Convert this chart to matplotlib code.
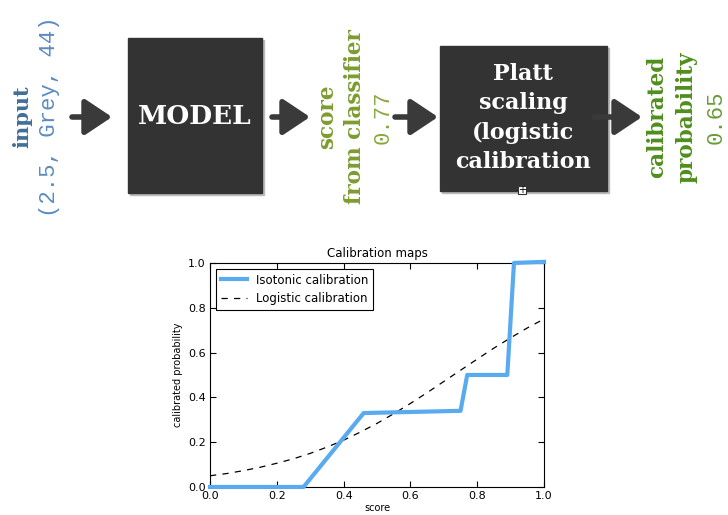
import matplotlib.pyplot as plt
from matplotlib.patches import Rectangle

# calibration maps
iso_x = [0.0, 0.28, 0.46, 0.75, 0.77, 0.89, 0.91, 1.0]
iso_y = [0.0, 0.0, 0.33, 0.34, 0.50, 0.50, 1.0, 1.005]

log_x = [0.0, 0.05, 0.1, 0.15, 0.2, 0.25, 0.3, 0.35, 0.4, 0.45, 0.5,
         0.55, 0.6, 0.65, 0.7, 0.75, 0.8, 0.85, 0.9, 0.95, 1.0]
log_y = [0.050, 0.060, 0.073, 0.088, 0.106, 0.126, 0.150, 0.178, 0.209, 0.245, 0.284,
         0.327, 0.373, 0.421, 0.471, 0.521, 0.571, 0.620, 0.666, 0.710, 0.750]

ticks = [0.0, 0.2, 0.4, 0.6, 0.8, 1.0]

# pipeline texts
input_word = 'input'
input_value = '(2.5, Grey, 44)'
score_words = ['score', 'from classifier']
score_value = '0.77'
prob_words = ['calibrated', 'probability']
prob_value = '0.65'
model_label = 'MODEL'
platt_label = 'Platt\nscaling\n(logistic\ncalibration'

fig = plt.figure(figsize=(7.28, 5.15), dpi=100)

# ---- top diagram, drawn in pixel coordinates ----
dax = fig.add_axes([0, 0, 1, 1])
dax.set_xlim(0, 728)
dax.set_ylim(515, 0)
dax.axis('off')

box_col = '#333333'
arrow_col = '#3a3a3a'
serif = 'DejaVu Serif'
mono = 'Liberation Mono'
mid_y = 117

def box(x0, y0, x1, y1):
    dax.add_patch(Rectangle((x0 + 2, y0 + 2), x1 - x0, y1 - y0, color='#bbbbbb', zorder=1))
    dax.add_patch(Rectangle((x0, y0), x1 - x0, y1 - y0, color=box_col, zorder=2))

def arrow(x0, x1):
    dax.annotate('', xy=(x1, mid_y), xytext=(x0, mid_y),
                 arrowprops=dict(arrowstyle='-|>,head_length=0.75,head_width=0.5',
                                 color=arrow_col, lw=4, mutation_scale=22,
                                 shrinkA=0, shrinkB=0))

def vtext(x, s, color, size, family, weight='bold'):
    dax.text(x, mid_y, s, rotation=90, ha='center', va='center', color=color,
             fontsize=size, family=family, fontweight=weight)

vtext(22, input_word, '#3f6e99', 15, serif)
vtext(50, input_value, '#5a8bbf', 16, mono, 'normal')
arrow(72, 112)

box(128, 38, 262, 193)
dax.text(195, mid_y, model_label, color='white', fontsize=19, family=serif,
         fontweight='bold', ha='center', va='center', zorder=3)
arrow(272, 310)

vtext(327, score_words[0], '#7d9c2e', 15.5, serif)
vtext(355, score_words[1], '#7d9c2e', 15.5, serif)
vtext(383, score_value, '#8aa840', 16, mono, 'normal')
arrow(395, 438)

box(440, 46, 607, 191)
dax.text(523, 118, platt_label, color='white', fontsize=16, family=serif,
         fontweight='bold', ha='center', va='center', linespacing=1.42, zorder=3)
dax.add_patch(Rectangle((518, 186), 8, 8, facecolor='white', edgecolor='#333333', lw=0.8, zorder=4))
dax.text(522, 190, '+', fontsize=7, ha='center', va='center', zorder=5)
arrow(594, 642)

vtext(657, prob_words[0], '#4f8e1c', 15.5, serif)
vtext(687, prob_words[1], '#4f8e1c', 15.5, serif)
vtext(716, prob_value, '#6a9c3a', 16, mono, 'normal')

# ---- calibration chart ----
ax = fig.add_axes([0.2885, 0.0544, 0.4588, 0.435])
ax.plot(iso_x, iso_y, color='#5aaaf0', lw=3, label='Isotonic calibration',
        clip_on=False, zorder=3)
ax.plot(log_x, log_y, color='black', ls='--', dashes=(5, 5), lw=0.9,
        label='Logistic calibration')
ax.set_xlim(0, 1)
ax.set_ylim(0, 1)
ax.set_xticks(ticks)
ax.set_yticks(ticks)
ax.tick_params(direction='in', top=True, right=True, labelsize=8, length=4, pad=3)
ax.set_title('Calibration maps', fontsize=8.5, pad=4)
ax.set_xlabel('score', fontsize=7, labelpad=1)
ax.set_ylabel('calibrated probability', fontsize=7, labelpad=4)
leg = ax.legend(loc='upper left', fontsize=8.5, fancybox=False, handlelength=2.2,
                borderaxespad=0.5, framealpha=1)
leg.get_frame().set_edgecolor('black')
leg.get_frame().set_linewidth(0.8)

fig.savefig('out.png', dpi=100)
